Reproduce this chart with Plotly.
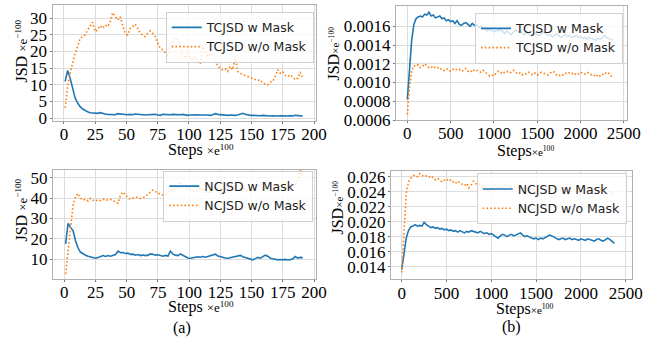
import plotly.graph_objects as go

W, H = 657, 339

# ---------------- data ----------------
steps_a = list(range(1, 192, 2))          # steps (x e100) for panel (a)
steps_b = list(range(0, 2400, 25))        # steps (x e100) for panel (b)

tc_mask_a = [11.0, 14.3, 12.0, 8.5, 6.0, 4.5, 3.4, 2.7, 2.2, 1.9, 1.6, 1.5, 1.5, 1.4, 1.6, 1.3,
             1.2, 1.1, 1.1, 1.2, 1.0, 1.3, 1.2, 1.1, 1.2, 1.0, 1.1, 1.0, 1.2, 1.1, 1.0, 1.1,
             0.9, 1.0, 1.1, 1.0, 1.1, 0.9, 0.8, 1.1, 1.0, 1.1, 1.0, 1.1, 1.0, 0.9, 1.0, 1.1,
             0.9, 0.8, 0.9, 1.0, 1.1, 1.0, 0.9, 1.0, 0.9, 0.9, 0.8, 1.0, 1.3, 1.1, 1.0, 0.9,
             0.9, 0.8, 0.9, 0.8, 0.8, 0.9, 1.1, 1.4, 1.1, 0.9, 0.8, 0.8, 0.7, 0.8, 0.7, 0.8,
             0.7, 0.7, 0.6, 0.7, 0.6, 0.6, 0.7, 0.6, 0.6, 0.6, 0.7, 0.6, 0.8, 0.8, 0.7, 0.6]
tc_nomask_a = [3.1, 9.5, 13.5, 17.0, 19.5, 21.5, 24.0, 24.5, 25.0, 26.5, 27.5, 28.8, 26.0, 26.5, 27.8, 27.0,
               28.0, 27.5, 29.0, 31.7, 30.5, 29.5, 30.5, 28.0, 25.5, 25.0, 27.0, 27.5, 28.2, 27.0, 25.5, 25.0,
               24.5, 25.5, 26.2, 25.5, 24.5, 22.5, 21.0, 20.5, 19.5, 18.8, 21.5, 23.0, 24.2, 23.5, 22.0, 19.0,
               18.0, 19.5, 18.0, 17.5, 18.5, 17.0, 16.2, 21.5, 20.0, 18.5, 19.5, 19.0, 17.5, 15.5, 15.0, 14.5,
               14.8, 14.0, 15.5, 14.5, 18.5, 14.0, 13.5, 13.0, 12.8, 12.5, 12.0, 11.8, 11.5, 11.3, 11.5, 10.5,
               10.2, 10.0, 10.8, 11.0, 12.5, 14.5, 13.5, 14.0, 12.8, 12.5, 13.0, 12.3, 11.5, 12.0, 13.8, 12.0]
nc_mask_a = [17.5, 27.6, 25.5, 24.0, 19.0, 15.5, 13.4, 12.5, 12.0, 11.5, 11.2, 10.8, 10.5, 10.9, 11.5, 11.8,
             11.4, 11.8, 11.5, 12.0, 12.3, 14.0, 13.2, 13.3, 12.8, 13.0, 12.4, 12.5, 12.0, 12.3, 11.8, 12.1,
             11.8, 12.0, 12.6, 12.4, 12.0, 12.2, 11.8, 11.5, 11.9, 11.6, 14.0, 12.5, 12.0, 11.8, 12.6, 11.8,
             11.3, 10.6, 10.5, 10.8, 10.9, 11.2, 11.0, 11.3, 11.0, 11.4, 11.8, 12.2, 12.5, 11.6, 11.2, 10.8,
             10.6, 10.5, 10.8, 10.9, 11.2, 11.6, 11.9, 11.2, 10.8, 10.5, 10.0, 9.7, 10.3, 10.9, 10.5, 11.2,
             12.0, 11.5, 10.5, 10.2, 9.8, 9.7, 9.9, 9.7, 9.9, 9.6, 9.8, 10.2, 11.3, 10.5, 10.9, 10.8]
nc_nomask_a = [2.8, 13.8, 27.6, 36.6, 40.7, 42.3, 39.9, 39.0, 39.5, 38.6, 39.9, 39.0, 38.6, 39.2, 38.8, 39.5,
               38.9, 39.0, 39.4, 38.6, 38.2, 37.4, 41.5, 43.0, 41.2, 40.0, 39.5, 39.9, 40.5, 40.2, 39.8, 40.3,
               40.7, 42.0, 43.0, 44.0, 43.2, 42.3, 41.8, 41.5, 42.0, 42.5, 44.0, 43.2, 44.8, 45.6, 48.0, 46.5,
               45.6, 44.5, 44.0, 43.5, 43.0, 43.8, 44.8, 44.2, 43.0, 42.3, 43.5, 45.0, 45.6, 44.5, 44.0, 44.5,
               44.8, 45.2, 46.0, 46.4, 45.0, 44.0, 44.3, 44.8, 44.8, 43.8, 43.0, 44.2, 45.5, 46.4, 45.5, 44.8,
               45.3, 44.0, 43.0, 44.5, 46.0, 47.2, 46.0, 45.6, 46.5, 47.2, 46.0, 44.8, 46.5, 48.9, 53.8, 51.3]

tc_mask_b = [0.00082, 0.00112, 0.00145, 0.00162, 0.00168, 0.00170, 0.00171, 0.00170, 0.00173, 0.00172,
             0.00175, 0.00171, 0.00172, 0.00169, 0.00170, 0.00171, 0.00168, 0.00169, 0.00166, 0.00167,
             0.00165, 0.00166, 0.00163, 0.00166, 0.00162, 0.00161, 0.00163, 0.00164, 0.00162, 0.00160,
             0.00163, 0.00161, 0.00162, 0.00159, 0.00160, 0.00157, 0.00158, 0.00155, 0.00157, 0.00155,
             0.00154, 0.00156, 0.00155, 0.00157, 0.00154, 0.00152, 0.00155, 0.00153, 0.00151, 0.00154,
             0.00156, 0.00154, 0.00155, 0.00153, 0.00151, 0.00154, 0.00152, 0.00150, 0.00151, 0.00153,
             0.00151, 0.00150, 0.00152, 0.00154, 0.00152, 0.00150, 0.00151, 0.00149, 0.00150, 0.00152,
             0.00150, 0.00148, 0.00150, 0.00151, 0.00149, 0.00150, 0.00148, 0.00149, 0.00150, 0.00148,
             0.00149, 0.00147, 0.00148, 0.00146, 0.00148, 0.00147, 0.00146, 0.00145, 0.00147, 0.00146,
             0.00148, 0.00150, 0.00148, 0.00147, 0.00146, 0.00145]
tc_nomask_b = [0.00066, 0.00095, 0.00112, 0.00118, 0.00117, 0.00119, 0.00116, 0.00117, 0.00120, 0.00118,
               0.00116, 0.00117, 0.00115, 0.00117, 0.00116, 0.00114, 0.00115, 0.00113, 0.00115, 0.00114,
               0.00112, 0.00114, 0.00115, 0.00113, 0.00114, 0.00112, 0.00113, 0.00115, 0.00112, 0.00113,
               0.00111, 0.00114, 0.00113, 0.00112, 0.00111, 0.00113, 0.00111, 0.00109, 0.00107, 0.00108,
               0.00107, 0.00110, 0.00112, 0.00111, 0.00109, 0.00111, 0.00112, 0.00110, 0.00111, 0.00113,
               0.00111, 0.00109, 0.00110, 0.00108, 0.00110, 0.00109, 0.00111, 0.00109, 0.00108, 0.00110,
               0.00108, 0.00109, 0.00111, 0.00110, 0.00109, 0.00108, 0.00110, 0.00112, 0.00111, 0.00108,
               0.00107, 0.00109, 0.00108, 0.00110, 0.00109, 0.00111, 0.00110, 0.00108, 0.00110, 0.00109,
               0.00111, 0.00110, 0.00109, 0.00111, 0.00110, 0.00108, 0.00107, 0.00109, 0.00106, 0.00107,
               0.00109, 0.00108, 0.00111, 0.00110, 0.00108, 0.00105]
nc_mask_b = [0.0136, 0.0160, 0.0178, 0.0188, 0.0193, 0.0194, 0.0196, 0.0194, 0.0195, 0.0194,
             0.0199, 0.0196, 0.0194, 0.0192, 0.0193, 0.0191, 0.0192, 0.0190, 0.0191, 0.0189,
             0.0190, 0.0188, 0.0189, 0.0187, 0.0188, 0.0186, 0.0188, 0.0187, 0.0185, 0.0187,
             0.0186, 0.0188, 0.0187, 0.0186, 0.0185, 0.0187, 0.0186, 0.0184, 0.0185, 0.0183,
             0.0184, 0.0182, 0.0180, 0.0178, 0.0181, 0.0183, 0.0182, 0.0180, 0.0182, 0.0183,
             0.0181, 0.0182, 0.0184, 0.0185, 0.0182, 0.0180, 0.0181, 0.0179, 0.0178, 0.0177,
             0.0178, 0.0176, 0.0178, 0.0177, 0.0179, 0.0180, 0.0182, 0.0181, 0.0179, 0.0177,
             0.0176, 0.0177, 0.0178, 0.0176, 0.0177, 0.0178, 0.0176, 0.0177, 0.0176, 0.0175,
             0.0177, 0.0176, 0.0175, 0.0177, 0.0176, 0.0175, 0.0174, 0.0176, 0.0177, 0.0175,
             0.0174, 0.0176, 0.0178, 0.0176, 0.0174, 0.0171]
nc_nomask_b = [0.0132, 0.0190, 0.0238, 0.0253, 0.0258, 0.0261, 0.0262, 0.0260, 0.0264, 0.0262,
               0.0260, 0.0261, 0.0259, 0.0261, 0.0258, 0.0256, 0.0258, 0.0255, 0.0253, 0.0255,
               0.0257, 0.0254, 0.0256, 0.0253, 0.0251, 0.0254, 0.0252, 0.0250, 0.0248, 0.0251,
               0.0245, 0.0249, 0.0254, 0.0251, 0.0249, 0.0250, 0.0248, 0.0246, 0.0244, 0.0242,
               0.0244, 0.0247, 0.0249, 0.0246, 0.0245, 0.0247, 0.0249, 0.0247, 0.0248, 0.0246,
               0.0245, 0.0247, 0.0246, 0.0244, 0.0246, 0.0245, 0.0243, 0.0245, 0.0244, 0.0242,
               0.0244, 0.0246, 0.0245, 0.0243, 0.0245, 0.0244, 0.0243, 0.0245, 0.0244, 0.0242,
               0.0244, 0.0243, 0.0245, 0.0244, 0.0242, 0.0243, 0.0245, 0.0244, 0.0242, 0.0243,
               0.0241, 0.0243, 0.0245, 0.0244, 0.0242, 0.0241, 0.0243, 0.0241, 0.0240, 0.0243,
               0.0246, 0.0244, 0.0242, 0.0240, 0.0238, 0.0234]

ticks_a_x = [0, 25, 50, 75, 100, 125, 150, 175, 200]
ticks_b_x = [0, 500, 1000, 1500, 2000, 2500]
ticks_tl_y = [0, 5, 10, 15, 20, 25, 30]
ticks_bl_y = [10, 20, 30, 40, 50]
ticks_tr_y = [0.0006, 0.0008, 0.0010, 0.0012, 0.0014, 0.0016]
ticks_br_y = [0.014, 0.016, 0.018, 0.020, 0.022, 0.024, 0.026]

# ---------------- styling ----------------
BLUE = "#1f77b4"
ORANGE = "#ff7f0e"
SERIF = "Liberation Serif"
SANS = "DejaVu Sans"


def px(x):
    return x / W


def py(y):
    return 1 - y / H


fig = go.Figure()

panels = [
    ("", steps_a, tc_mask_a, tc_nomask_a, "TCJSD", "legend"),
    ("2", steps_b, tc_mask_b, tc_nomask_b, "TCJSD", "legend2"),
    ("3", steps_a, nc_mask_a, nc_nomask_a, "NCJSD", "legend3"),
    ("4", steps_b, nc_mask_b, nc_nomask_b, "NCJSD", "legend4"),
]
for suf, xs, ym, yn, nm, lg in panels:
    fig.add_trace(go.Scatter(x=xs, y=ym, mode="lines", name=nm + " w Mask",
                             line=dict(color=BLUE, width=1.6),
                             xaxis="x" + suf, yaxis="y" + suf, legend=lg))
    fig.add_trace(go.Scatter(x=xs, y=yn, mode="lines", name=nm + " w/o Mask",
                             line=dict(color=ORANGE, width=1.6, dash="1.6px,2.2px"),
                             xaxis="x" + suf, yaxis="y" + suf, legend=lg))

common = dict(showgrid=True, gridcolor="#dcdcdc", gridwidth=1,
              showline=True, linecolor="#b0b0b0", linewidth=1, mirror=True,
              ticks="outside", ticklen=2, tickcolor="#777777",
              tickfont=dict(family=SERIF, size=17, color="black"),
              zeroline=False, automargin=False)

dom = {
    "": ((52.5, 316), (5, 121)),
    "2": ((396, 627), (5.7, 120)),
    "3": ((53, 316), (170, 279)),
    "4": ((391, 631.7), (170.7, 279.3)),
}
xr = {"": [-9.1, 201.6], "2": [-131, 2537], "3": [-9.1, 201.6], "4": [-120, 2567]}
yr = {"": [-0.9, 34.0], "2": [0.0006, 0.00182], "3": [0.3, 53.8], "4": [0.0123, 0.0268]}
xt = {"": ticks_a_x, "2": ticks_b_x, "3": ticks_a_x, "4": ticks_b_x}
yt = {"": ticks_tl_y, "2": ticks_tr_y, "3": ticks_bl_y, "4": ticks_br_y}
yfmt = {"": "d", "2": ".4f", "3": "d", "4": ".3f"}

layout = dict(template="none", width=W, height=H, margin=dict(l=0, r=0, t=0, b=0, autoexpand=False),
              paper_bgcolor="white", plot_bgcolor="white", showlegend=True,
              font=dict(family=SERIF, size=16, color="black"))
for suf in ["", "2", "3", "4"]:
    (x0, x1), (y0, y1) = dom[suf]
    layout["xaxis" + suf] = dict(common, domain=[px(x0), px(x1)], range=xr[suf],
                                 tickvals=xt[suf], anchor="y" + suf, ticklabelstandoff=-4)
    layout["yaxis" + suf] = dict(common, domain=[py(y1), py(y0)], range=yr[suf],
                                 tickvals=yt[suf], tickformat=yfmt[suf], anchor="x" + suf,
                                 ticklabelstandoff=-1)

leg_common = dict(font=dict(family=SANS, size=12.5, color="#222222"),
                  bgcolor="rgba(255,255,255,0.8)", bordercolor="#d0d0d0", borderwidth=1,
                  xanchor="left", yanchor="top", itemwidth=30, tracegroupgap=0)
layout["legend"] = dict(leg_common, x=px(165.7), y=py(11.7))
layout["legend2"] = dict(leg_common, x=px(475), y=py(12.7))
layout["legend3"] = dict(leg_common, x=px(163.3), y=py(170.5))
layout["legend4"] = dict(leg_common, x=px(476.7), y=py(173.3))

fig.update_layout(**layout)

ann = []


def add_text(x, y, text, size=16, angle=0):
    ann.append(dict(x=px(x), y=py(y), xref="paper", yref="paper", text=text,
                    showarrow=False, textangle=angle, xanchor="center", yanchor="middle",
                    font=dict(family=SERIF, size=size, color="black")))


ytitle_a = 'JSD <span style="font-size:13px">×e<sup>−100</sup></span>'
ytitle_b = 'JSD<span style="font-size:11px">×e<sup>−100</sup></span>'
xtitle_a = 'Steps <span style="font-size:13px">×e<sup>100</sup></span>'
xtitle_b = 'Steps<span style="font-size:11px">×e<sup>100</sup></span>'

add_text(20.5, 51, ytitle_a, angle=-90)
add_text(333, 53.5, ytitle_b, angle=-90)
add_text(20.5, 210, ytitle_a, angle=-90)
add_text(337, 207.5, ytitle_b, angle=-90)
add_text(201, 149.5, xtitle_a)
add_text(525, 150.5, xtitle_b)
add_text(201, 306.5, xtitle_a)
add_text(524.5, 308.5, xtitle_b)
add_text(181.7, 327.5, "(a)")
add_text(511.7, 326.5, "(b)")

fig.update_layout(annotations=ann)
fig.write_html("out.html", config={"displayModeBar": False},
               post_script="document.body.style.margin='0';document.body.style.padding='0';")
